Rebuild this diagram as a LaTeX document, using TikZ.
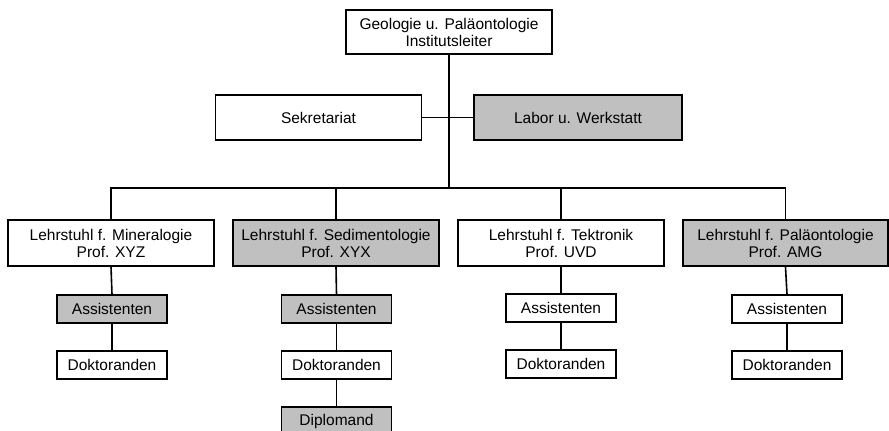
\documentclass[tikz,border=0pt]{standalone}
\usepackage{fontspec}
\setmainfont{Liberation Sans}
\definecolor{boxgray}{RGB}{192,192,192}
\tikzset{
  unit/.style={draw=black, line width=1.6pt, fill=white, inner sep=0pt,
    align=center, font=\fontsize{15.5}{17}\selectfont, text=black},
  bigbox/.style={unit, minimum width=206pt, minimum height=45pt},
  smallbox/.style={unit, minimum width=110pt, minimum height=28pt},
  shaded/.style={fill=boxgray},
  link/.style={line width=1.6pt, draw=black}
}
\begin{document}
\begin{tikzpicture}[x=1pt, y=-1pt]
\useasboundingbox (0,0) rectangle (889,431);
\clip (0,0) rectangle (889,431);

% institute head and staff units
\node[bigbox, minimum height=44pt] (head) at (449,32) {Geologie u. Paläontologie\\Institutsleiter};
\node[bigbox] (sek) at (318.5,117.5) {Sekretariat};
\node[bigbox, shaded, minimum width=208pt] (labor) at (578,117.5) {Labor u. Werkstatt};

% chairs
\node[bigbox, minimum height=46pt] (min) at (111,243) {Lehrstuhl f. Mineralogie\\Prof. XYZ};
\node[bigbox, shaded, minimum height=46pt] (sed) at (336,243) {Lehrstuhl f. Sedimentologie\\Prof. XYX};
\node[bigbox, minimum height=46pt] (tek) at (561,243) {Lehrstuhl f. Tektronik\\Prof. UVD};
\node[bigbox, shaded, minimum height=46pt, minimum width=205pt] (pal) at (785.5,243) {Lehrstuhl f. Paläontologie\\Prof. AMG};

% staff below each chair
\node[smallbox, shaded] (minA) at (112,309) {Assistenten};
\node[smallbox] (minD) at (112,365) {Doktoranden};
\node[smallbox, shaded] (sedA) at (336.5,309) {Assistenten};
\node[smallbox] (sedD) at (336.5,365) {Doktoranden};
\node[smallbox, shaded] (sedP) at (336.5,421) {Diplomand};
\node[smallbox] (tekA) at (561,308) {Assistenten};
\node[smallbox] (tekD) at (561,364) {Doktoranden};
\node[smallbox] (palA) at (787,309) {Assistenten};
\node[smallbox] (palD) at (787,365) {Doktoranden};

% connectors
\coordinate (bus) at (449,188);
\draw[link] (head.south) -- (bus);
\draw[link] (sek.east) -- (labor.west);
\draw[link] (min.north) |- (bus) -| (pal.north);
\draw[link] (sed.north) -- (sed.north |- bus);
\draw[link] (tek.north) -- (tek.north |- bus);
\draw[link] (min.south) -- (minA.north);
\draw[link] (minA.south) -- (minD.north);
\draw[link] (sed.south) -- (sedA.north);
\draw[link] (sedA.south) -- (sedD.north);
\draw[link] (sedD.south) -- (sedP.north);
\draw[link] (tek.south) -- (tekA.north);
\draw[link] (tekA.south) -- (tekD.north);
\draw[link] (pal.south) -- (palA.north);
\draw[link] (palA.south) -- (palD.north);
\end{tikzpicture}
\end{document}
